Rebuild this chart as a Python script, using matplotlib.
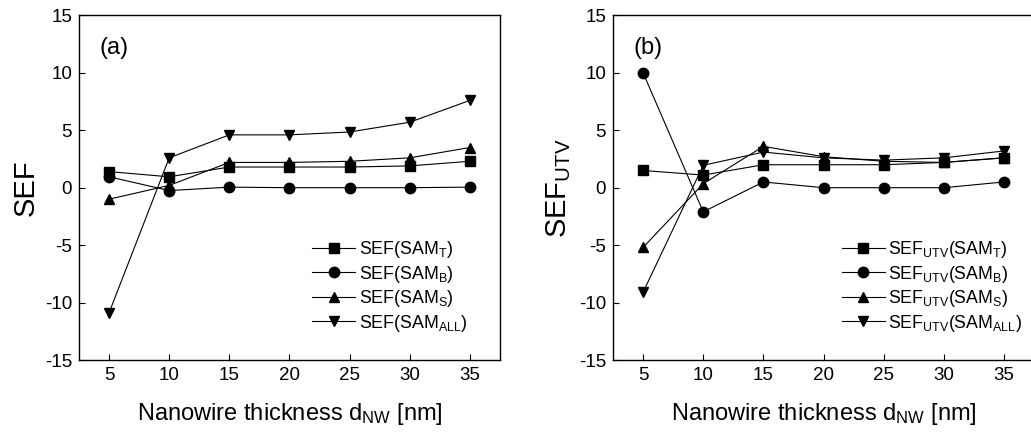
import numpy as np
import matplotlib
matplotlib.use('Agg')
import matplotlib.pyplot as plt

plt.rcParams['font.family'] = ['Liberation Sans', 'DejaVu Sans']
plt.rcParams['mathtext.fontset'] = 'custom'
plt.rcParams['mathtext.rm'] = 'Liberation Sans'
plt.rcParams['mathtext.it'] = 'Liberation Sans'
plt.rcParams['axes.unicode_minus'] = False

# Nanowire thickness d_NW [nm]
thickness = [5, 10, 15, 20, 25, 30, 35]

# panel (a): SEF
sef_t = [1.4, 0.95, 1.8, 1.8, 1.8, 1.9, 2.3]
sef_b = [0.95, -0.25, 0.05, 0.0, 0.0, 0.0, 0.05]
sef_s = [-1.0, 0.2, 2.2, 2.2, 2.3, 2.6, 3.5]
sef_all = [-10.9, 2.6, 4.6, 4.6, 4.85, 5.7, 7.6]

# panel (b): SEF_UTV
utv_t = [1.5, 1.1, 2.0, 2.0, 2.0, 2.2, 2.6]
utv_b = [10.0, -2.1, 0.5, 0.0, 0.0, 0.0, 0.5]
utv_s = [-5.2, 0.35, 3.6, 2.7, 2.3, 2.2, 2.6]
utv_all = [-9.1, 1.95, 3.1, 2.6, 2.4, 2.6, 3.2]

markers = ['s', 'o', '^', 'v']
subs = ['T', 'B', 'S', 'ALL']

fig = plt.figure(figsize=(10.31, 4.34), dpi=100)
ax1 = fig.add_axes([0.0766, 0.1705, 0.4083, 0.794])
ax2 = fig.add_axes([0.5946, 0.1705, 0.4083, 0.794])


def draw(ax, series, prefix, ylabel, tag, leg_x):
    for vals, m, s in zip(series, markers, subs):
        ax.plot(thickness, vals, marker=m, color='black', markersize=7.5,
                linewidth=0.8, label=prefix + r'(SAM$_{\mathrm{' + s + r'}}$)')
    ax.set_xlim(2.5, 37.5)
    ax.set_ylim(-15, 15)
    ax.set_xticks(thickness)
    ax.set_yticks([-15, -10, -5, 0, 5, 10, 15])
    ax.tick_params(direction='in', length=4, width=0.8, labelsize=13.5, pad=5)
    for sp in ax.spines.values():
        sp.set_linewidth(1.0)
    ax.set_xlabel(r'Nanowire thickness d$_{\mathrm{NW}}$ [nm]', fontsize=17, labelpad=12)
    ax.set_ylabel(ylabel, fontsize=21, labelpad=4)
    ax.text(0.048, 0.905, tag, transform=ax.transAxes, fontsize=17, va='center', ha='left')
    ax.legend(loc='lower right', bbox_to_anchor=(leg_x, 0.03), frameon=False,
              fontsize=12.8, handlelength=2.4, handletextpad=0.2, labelspacing=0.2)


draw(ax1, [sef_t, sef_b, sef_s, sef_all], 'SEF', 'SEF', '(a)', 0.96)
draw(ax2, [utv_t, utv_b, utv_s, utv_all], r'SEF$_{\mathrm{UTV}}$', r'SEF$_{\mathrm{UTV}}$', '(b)', 1.01)

plt.savefig('out.png', dpi=100)
